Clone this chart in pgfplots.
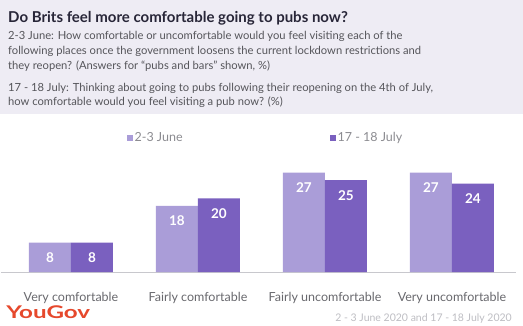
\documentclass[border=0pt]{standalone}
\usepackage{fontspec}
\setmainfont{Lato}
\usepackage{pgfplots}
\pgfplotsset{compat=1.18}
\definecolor{lightp}{RGB}{170,157,216}
\definecolor{darkp}{RGB}{122,96,191}
\definecolor{band}{RGB}{238,236,244}
\definecolor{titlec}{RGB}{40,38,56}
\definecolor{subc}{RGB}{85,85,90}
\definecolor{catc}{RGB}{105,105,110}
\definecolor{legc}{RGB}{140,140,145}
\definecolor{linec}{RGB}{200,200,205}
\definecolor{ygred}{RGB}{230,72,44}
\definecolor{footc}{RGB}{190,190,195}
\begin{document}
\begin{tikzpicture}[x=1pt,y=1pt]
\fill[white] (0,0) rectangle (523,325);
\fill[band] (0,211) rectangle (523,325);
\node[anchor=base west, inner sep=0, font=\fontsize{15}{17}\selectfont\bfseries, text=titlec] at (8,303) {Do Brits feel more comfortable going to pubs now?};
\begin{scope}[every node/.style={anchor=base west, inner sep=0, font=\fontsize{11.2}{13}\selectfont, text=subc}]
\node at (8,285.5) {2-3 June: How comfortable or uncomfortable would you feel visiting each of the};
\node at (8,271) {following places once the government loosens the current lockdown restrictions and};
\node at (8,256) {they reopen? (Answers for ``pubs and bars'' shown, \%)};
\node at (8,234) {17 - 18 July: Thinking about going to pubs following their reopening on the 4th of July,};
\node at (8,220) {how comfortable would you feel visiting a pub now? (\%)};
\end{scope}
\node[anchor=base west, inner sep=0, xscale=1.38, font=\fontsize{17.5}{18}\selectfont\bfseries, text=ygred] at (6,7) {YouGov};
\node[anchor=base east, inner sep=0, font=\fontsize{10.5}{12}\selectfont, text=footc] at (512,4) {2 - 3 June 2020 and 17 - 18 July 2020};
\begin{axis}[at={(1pt,53pt)}, anchor=south west, scale only axis,
  width=515pt, height=110.4pt,
  ymin=0, ymax=30, xmin=-0.551, xmax=3.504,
  ybar=0pt, bar width=42pt,
  /pgf/number format/assume math mode=true,
  axis y line=none, axis x line*=bottom,
  x axis line style={draw=linec, line width=0.8pt},
  xtick=data, xtick style={draw=none},
  xticklabels={Very comfortable, Fairly comfortable, Fairly uncomfortable, Very uncomfortable},
  xticklabel style={font=\fontsize{12.5}{14}\selectfont, text=catc, anchor=base, yshift=-25pt},
  nodes near coords,
  every node near coord/.append style={anchor=north, inner sep=0pt, yshift=-10pt, text=white, font=\fontsize{13.5}{15}\selectfont\bfseries},
  legend columns=2,
  legend image code/.code={\fill[#1] (0pt,-3pt) rectangle (6pt,3pt);},
  legend style={draw=none, fill=none, inner sep=0pt, at={(0.2435,1.217)}, anchor=west,
    font=\fontsize{12.5}{14}\selectfont, text=legc,
    /tikz/every even column/.append style={column sep=145pt}},
  clip=false]
\addplot[draw=none, fill=lightp] coordinates {(0,8) (1,18) (2,27) (3,27)};
\addplot[draw=none, fill=darkp] coordinates {(0,8) (1,20) (2,25) (3,24)};
\legend{2-3 June, 17 - 18 July}
\end{axis}
\end{tikzpicture}
\end{document}
